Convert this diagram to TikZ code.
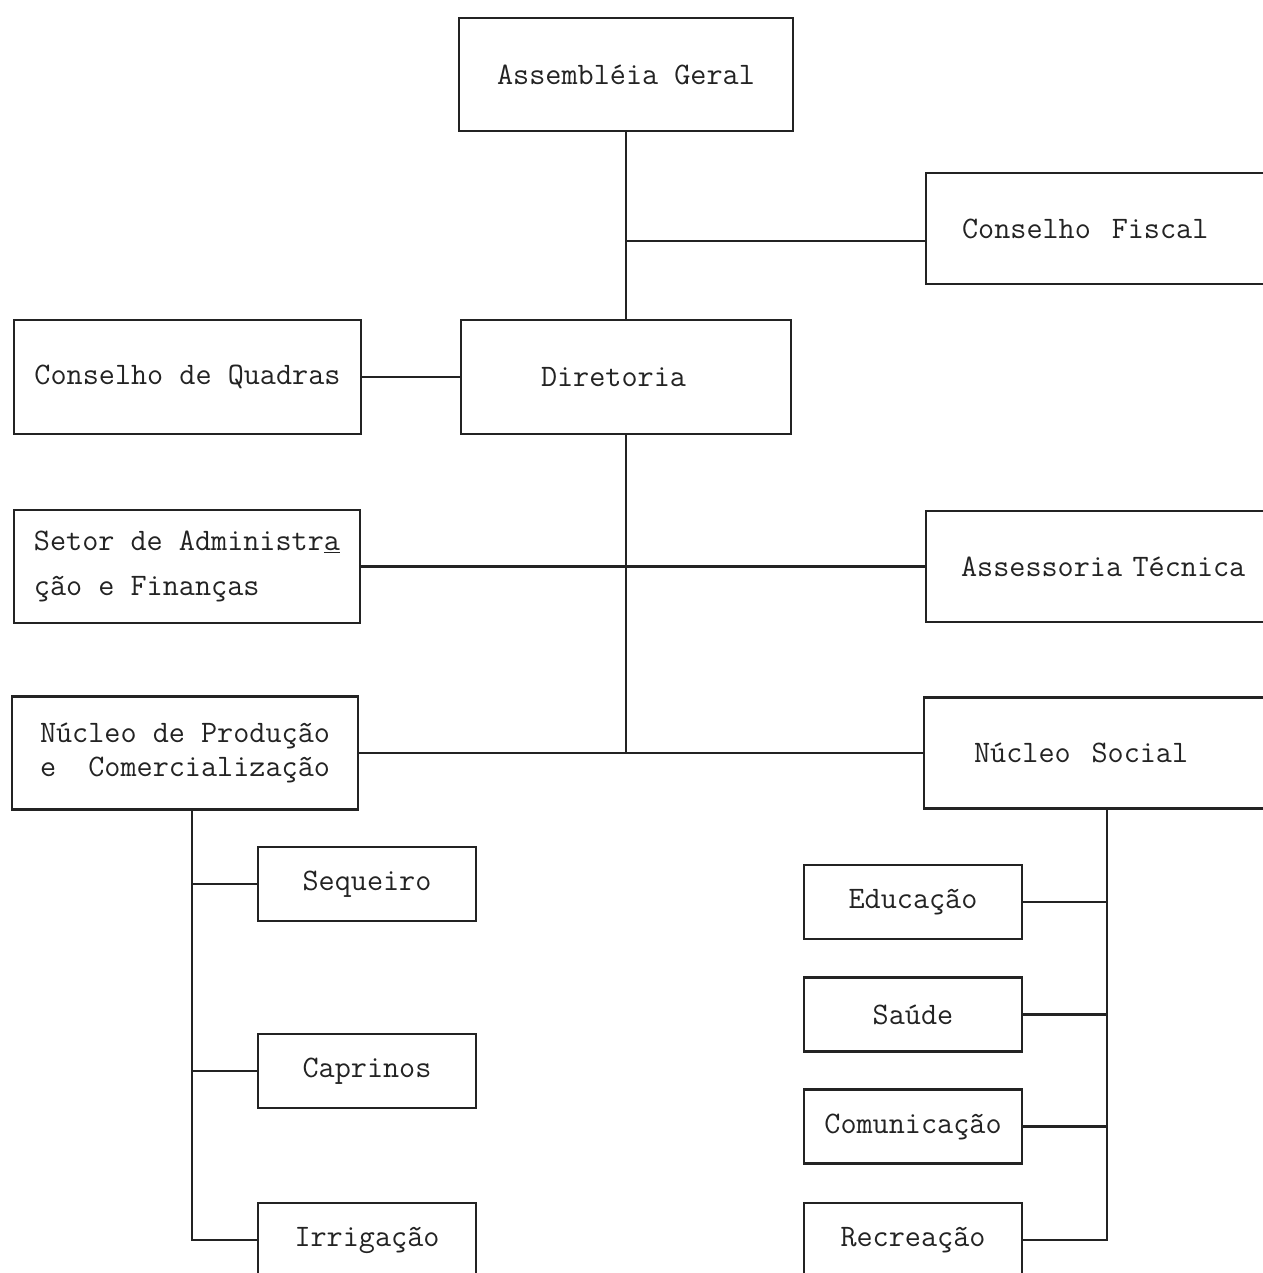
\documentclass[tikz,border=0pt]{standalone}
\usepackage{tikz}
\definecolor{typeink}{RGB}{35, 35, 35}

\begin{document}
\begin{tikzpicture}[
        box/.style={draw=typeink, line width=1.2pt, rectangle, text=typeink, inner sep=0pt,
            font=\ttfamily\fontsize{17.8}{22}\selectfont},
        sidebox/.style={box, anchor=west, align=left, text width=6.2cm, inner xsep=0.72cm, minimum height=2.22cm},
        smallbox/.style={box, minimum width=4.36cm, minimum height=1.48cm},
        link/.style={draw=typeink, line width=1.25pt}]
                    \useasboundingbox (0,0) rectangle (25.26,25.46);

                    \node[box, minimum width=6.68cm, minimum height=2.26cm] (assembleia) at (12.52,23.97) {Assembléia Geral};
                    \node[sidebox] (fiscal) at (18.50,20.89) {Conselho\ \ Fiscal};
                    \node[box, minimum width=6.94cm, minimum height=2.28cm] (quadras) at (3.75,17.92) {Conselho de Quadras};
                    \node[box, minimum width=6.60cm, minimum height=2.28cm] (diretoria) at (12.52,17.92) {Diretoria\hspace*{0.5cm}};
                    \node[box, align=left, minimum width=6.92cm, minimum height=2.26cm,
                        font=\ttfamily\fontsize{17.8}{26}\selectfont] (setor) at (3.74,14.13) {Setor de Administr\underline{a}\\ção e Finanças};
                    \node[sidebox, inner xsep=0.70cm] (assessoria) at (18.50,14.13) {Assessoria Técnica};
                    \node[box, align=left, minimum width=6.92cm, minimum height=2.26cm,
                        font=\ttfamily\fontsize{17.8}{19}\selectfont] (producao) at (3.70,10.40) {Núcleo de Produção\\e\ \ Comercialização};
                    \node[sidebox, inner xsep=1.0cm] (social) at (18.46,10.40) {Núcleo\ \ Social};

                    \node[smallbox] (sequeiro) at (7.34,7.78) {Sequeiro};
                    \node[smallbox] (caprinos) at (7.34,4.04) {Caprinos};
                    \node[smallbox] (irrigacao) at (7.34,0.66) {Irrigação};
                    \node[smallbox] (educacao) at (18.26,7.42) {Educação};
                    \node[smallbox] (saude) at (18.26,5.17) {Saúde};
                    \node[smallbox] (comunicacao) at (18.26,2.93) {Comunicação};
                    \node[smallbox] (recreacao) at (18.26,0.66) {Recreação};

                    \coordinate (fiscaljoin) at (12.52,20.64);
                    \coordinate (prodspine) at ([xshift=0.14cm]producao.south);
                    \coordinate (socialspine) at ([xshift=3.68cm]social.south west);

                    \draw[link] (assembleia) -- (diretoria);
                    \draw[link] (fiscaljoin) -- (fiscaljoin -| fiscal.west);
                    \draw[link] (quadras) -- (diretoria);
                    \draw[link] (diretoria) -- (diretoria |- producao);
                    \draw[link] (setor) -- (assessoria);
                    \draw[link] (producao) -- (social);

                    \draw[link] (prodspine) |- (irrigacao);
                    \draw[link] (sequeiro) -- (sequeiro -| prodspine);
                    \draw[link] (caprinos) -- (caprinos -| prodspine);

                    \draw[link] (socialspine) |- (recreacao);
                    \draw[link] (educacao) -- (educacao -| socialspine);
                    \draw[link] (saude) -- (saude -| socialspine);
                    \draw[link] (comunicacao) -- (comunicacao -| socialspine);
                \end{tikzpicture}
\end{document}
